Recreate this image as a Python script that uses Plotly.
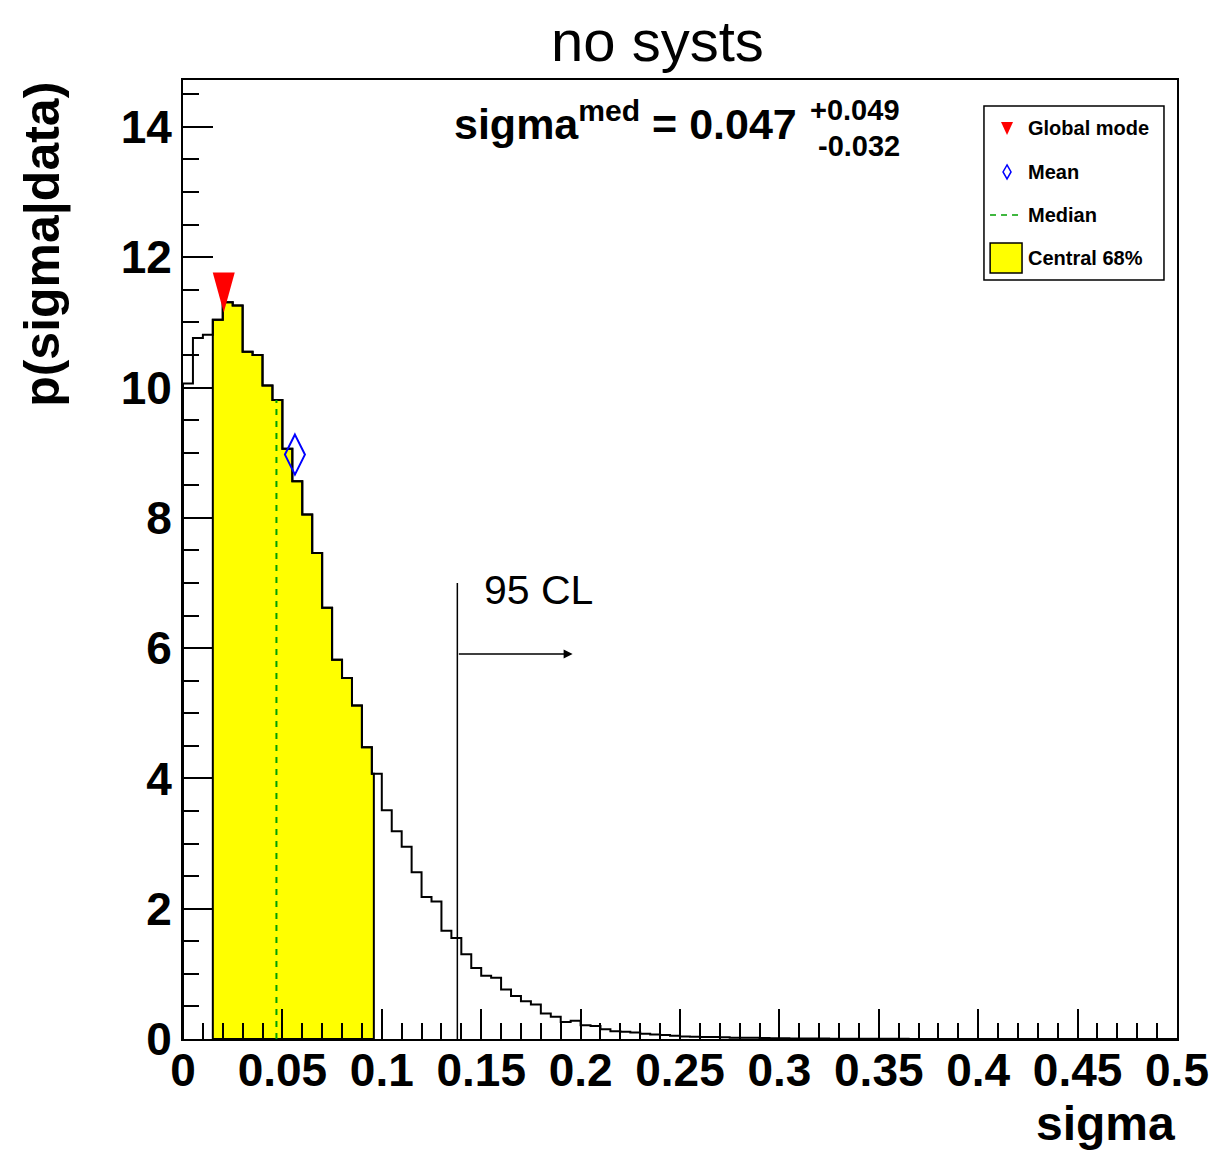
import plotly.graph_objects as go

# ---------------- data ----------------
bin_width = 0.005
hist_values = [
    10.06, 10.76, 10.81, 11.04, 11.31, 11.26, 10.55, 10.50, 10.03, 9.81,
    9.06, 8.56, 8.05, 7.46, 6.62, 5.82, 5.54, 5.12, 4.48, 4.07,
    3.51, 3.19, 2.95, 2.56, 2.18, 2.11, 1.66, 1.55, 1.30, 1.09,
    0.97, 0.94, 0.76, 0.66, 0.58, 0.53, 0.39, 0.34, 0.26, 0.28,
    0.21, 0.20, 0.15, 0.12, 0.11, 0.10, 0.08, 0.07, 0.06, 0.05,
    0.04, 0.035, 0.03, 0.03, 0.025, 0.02, 0.02, 0.018, 0.015, 0.012,
    0.010, 0.009, 0.008, 0.007, 0.006, 0.005, 0.004, 0.004, 0.003, 0.003,
    0.002, 0.002, 0.002, 0.001, 0.001, 0.001, 0.001, 0.0, 0.0, 0.0,
    0.0, 0.0, 0.0, 0.0, 0.0, 0.0, 0.0, 0.0, 0.0, 0.0,
    0.0, 0.0, 0.0, 0.0, 0.0, 0.0, 0.0, 0.0, 0.0, 0.0,
]
median = 0.047
err_plus = 0.049
err_minus = 0.032
mode_x = 0.0205
mode_marker_y = 11.46
mean_x = 0.0563
mean_marker_y = 8.97
cl95 = 0.138
cl95_line_top = 7.0
cl95_arrow_y = 5.91
cl95_arrow_end = 0.196
cl95_text = "95 CL"

FONT = "Liberation Sans, Arial, Helvetica, sans-serif"

n = len(hist_values)
edges = [round(i * bin_width, 6) for i in range(n + 1)]


def h_at(x):
    i = int(x / bin_width + 1e-9)
    i = min(max(i, 0), n - 1)
    return hist_values[i]


# yellow central 68% polygon
lo = round(median - err_minus, 6)
hi = round(median + err_plus, 6)
px_ = [lo, lo]
py_ = [0, h_at(lo)]
for e in edges:
    if lo + 1e-9 < e < hi - 1e-9:
        px_ += [e, e]
        py_ += [h_at(e - 1e-7), h_at(e + 1e-7)]
px_ += [hi, hi, lo]
py_ += [h_at(hi), 0, 0]

# histogram outline
sx = [0.0] + edges[:-1] + [edges[-1]]
sy = [0.0] + hist_values + [hist_values[-1]]

fig = go.Figure()
fig.add_trace(go.Scatter(x=px_, y=py_, mode="lines", fill="toself",
                         fillcolor="#ffff00", line=dict(color="black", width=2),
                         hoverinfo="skip", showlegend=False))
fig.add_trace(go.Scatter(x=sx, y=sy, mode="lines", line=dict(color="black", width=2, shape="hv"),
                         showlegend=False))
fig.add_trace(go.Scatter(x=[median, median], y=[0, h_at(median)], mode="lines",
                         line=dict(color="#00a000", width=2, dash="6px,6px"), showlegend=False))
fig.add_trace(go.Scatter(x=[cl95, cl95], y=[-0.06, cl95_line_top], mode="lines",
                         line=dict(color="black", width=1.5), showlegend=False, cliponaxis=False))

shapes = []
# mode marker (tall triangle, tip down)
shapes.append(dict(type="path", xref="x", yref="y", xsizemode="pixel", ysizemode="pixel",
                   xanchor=mode_x, yanchor=mode_marker_y,
                   path="M-11,20 L11,20 L0,-20 Z", fillcolor="#ff0000", line=dict(width=0)))
# mean marker (tall open diamond)
shapes.append(dict(type="path", xref="x", yref="y", xsizemode="pixel", ysizemode="pixel",
                   xanchor=mean_x, yanchor=mean_marker_y,
                   path="M0,20 L10,0 L0,-20 L-10,0 Z", line=dict(color="#0000ff", width=2)))

# legend box
shapes.append(dict(type="rect", xref="paper", yref="paper", x0=0.8058, x1=0.9869, y0=0.7915, y1=0.9729,
                   line=dict(color="black", width=1.5), fillcolor="white"))
shapes.append(dict(type="path", xref="paper", yref="paper", xsizemode="pixel", ysizemode="pixel",
                   xanchor=0.829, yanchor=0.9499, path="M-6,6 L6,6 L0,-7 Z",
                   fillcolor="#ff0000", line=dict(width=0)))
shapes.append(dict(type="path", xref="paper", yref="paper", xsizemode="pixel", ysizemode="pixel",
                   xanchor=0.829, yanchor=0.9041, path="M0,7 L4,0 L0,-7 L-4,0 Z",
                   line=dict(color="#0000ff", width=1.5)))
shapes.append(dict(type="line", xref="paper", yref="paper", x0=0.8119, x1=0.8451, y0=0.8592, y1=0.8592,
                   line=dict(color="#00a000", width=1.5, dash="6px,5px")))
shapes.append(dict(type="rect", xref="paper", yref="paper", x0=0.812, x1=0.8441, y0=0.7987, y1=0.8300,
                   line=dict(color="black", width=1.5), fillcolor="#ffff00"))

annotations = []
leg_labels = ["Global mode", "Mean", "Median", "Central 68%"]
leg_y = [0.9499, 0.9041, 0.8592, 0.8144]
for t, yy in zip(leg_labels, leg_y):
    annotations.append(dict(text=t, xref="paper", yref="paper", x=0.8481, y=yy, xanchor="left",
                            yanchor="middle", showarrow=False,
                            font=dict(family=FONT, size=20, color="black", weight="bold")))

# title
annotations.append(dict(text="no systs", xref="paper", yref="paper", x=0.4769, y=1.0417,
                        xanchor="center", yanchor="middle", showarrow=False,
                        font=dict(family=FONT, size=58, color="black")))
# median result
annotations.append(dict(text="sigma<sup>med</sup> = %.3f" % median, xref="paper", yref="paper",
                        x=0.6197, y=0.957, xanchor="right", yanchor="middle", showarrow=False,
                        font=dict(family=FONT, size=43, color="black", weight="bold")))
annotations.append(dict(text="+%.3f" % err_plus, xref="paper", yref="paper", x=0.7233, y=0.9687,
                        xanchor="right", yanchor="middle", showarrow=False,
                        font=dict(family=FONT, size=29, color="black", weight="bold")))
annotations.append(dict(text="-%.3f" % err_minus, xref="paper", yref="paper", x=0.7233, y=0.9312,
                        xanchor="right", yanchor="middle", showarrow=False,
                        font=dict(family=FONT, size=29, color="black", weight="bold")))
# 95 CL
annotations.append(dict(text="", x=cl95_arrow_end, y=cl95_arrow_y, ax=cl95, ay=cl95_arrow_y,
                        xref="x", yref="y", axref="x", ayref="y", showarrow=True,
                        arrowhead=2, arrowsize=1.2, arrowwidth=1.5, arrowcolor="black"))
annotations.append(dict(text=cl95_text, x=0.1504, y=6.89, xref="x", yref="y", xanchor="left",
                        yanchor="middle", showarrow=False,
                        font=dict(family=FONT, size=41, color="black")))
# axis titles
annotations.append(dict(text="sigma", xref="paper", yref="paper", x=1.0, y=-0.1178,
                        xanchor="right", yanchor="bottom", showarrow=False,
                        font=dict(family=FONT, size=48, color="black", weight="bold")))
annotations.append(dict(text="p(sigma|data)", xref="paper", yref="paper", x=-0.1415, y=1.0,
                        xanchor="center", yanchor="top", textangle=-90, showarrow=False,
                        font=dict(family=FONT, size=50, color="black", weight="bold")))

tickfont = dict(family=FONT, size=46, color="black", weight="bold")

fig.update_layout(
    width=1217, height=1152,
    margin=dict(l=183, r=40, t=80, b=113, autoexpand=False),
    paper_bgcolor="white", plot_bgcolor="white",
    showlegend=False,
    shapes=shapes,
    annotations=annotations,
    xaxis=dict(range=[0, 0.5], dtick=0.05, tick0=0, ticks="inside", ticklen=30, tickwidth=2,
               tickcolor="black", showline=True, linecolor="black", linewidth=2, mirror=True,
               showgrid=False, zeroline=False, tickfont=tickfont, ticklabelstandoff=-10,
               automargin=False,
               minor=dict(dtick=0.01, ticks="inside", ticklen=16, tickwidth=2, tickcolor="black",
                          showgrid=False)),
    yaxis=dict(range=[0, 14.72], dtick=2, tick0=0, ticks="inside", ticklen=30, tickwidth=2,
               tickcolor="black", showline=True, linecolor="black", linewidth=2, mirror=True,
               showgrid=False, zeroline=False, tickfont=tickfont, automargin=False,
               minor=dict(dtick=0.5, ticks="inside", ticklen=16, tickwidth=2, tickcolor="black",
                          showgrid=False)),
)

fig.write_html("out.html")
